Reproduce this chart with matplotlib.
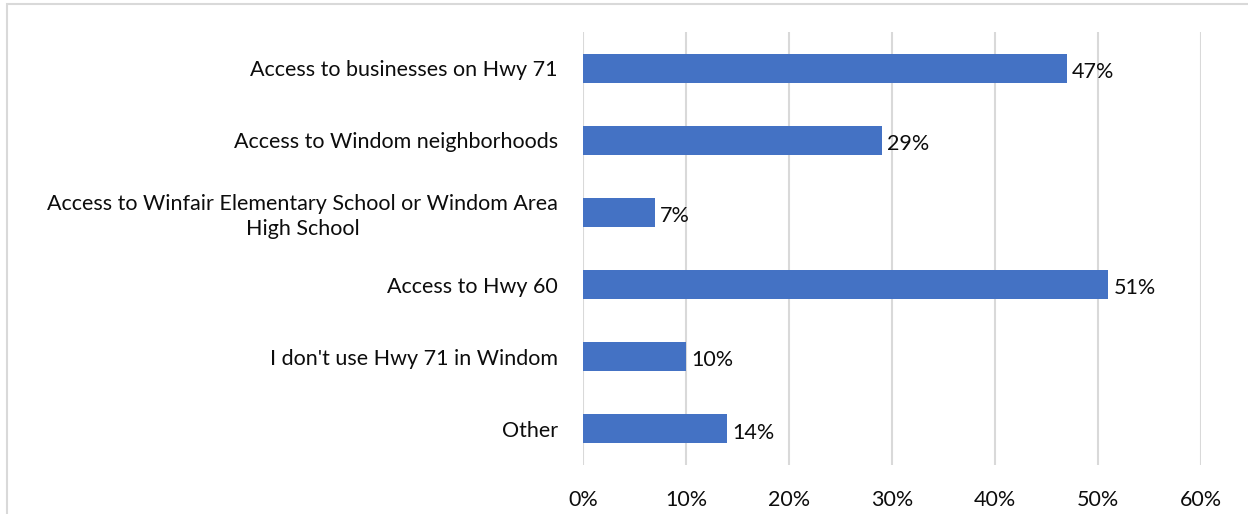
import matplotlib.pyplot as plt
from matplotlib.patches import Rectangle

plt.rcParams['font.family'] = ['Lato', 'DejaVu Sans']

# survey responses, top to bottom
categories = [
    "Access to businesses on Hwy 71",
    "Access to Windom neighborhoods",
    "Access to Winfair Elementary School or Windom Area\nHigh School",
    "Access to Hwy 60",
    "I don't use Hwy 71 in Windom",
    "Other",
]
shares = [47, 29, 7, 51, 10, 14]
x_ticks = [0, 10, 20, 30, 40, 50, 60]
x_tick_labels = ["0%", "10%", "20%", "30%", "40%", "50%", "60%"]

BAR_COLOR = "#4472c4"
GRID_COLOR = "#d9d9d9"
TEXT_COLOR = "#0d0d0d"
FS = 15.5

fig = plt.figure(figsize=(12.48, 5.14), dpi=100)
ax = fig.add_axes([0.4671, 0.0953, 0.4952, 0.8424])

# light frame around the chart area (runs off the right and bottom edges)
fig.patches.append(Rectangle((7 / 1248, -0.1), 1.2, 1 - 4 / 514 + 0.1,
                             transform=fig.transFigure, fill=False,
                             edgecolor=GRID_COLOR, linewidth=1.5, zorder=0))

y = list(range(len(categories)))
ax.barh(y, shares, height=0.4, color=BAR_COLOR, zorder=3)
for yi, v in zip(y, shares):
    ax.text(v + 0.5, yi + 0.05, f"{v}%", va="center", ha="left",
            fontsize=FS, color=TEXT_COLOR)

ax.set_xlim(0, 60)
ax.set_ylim(len(categories) - 0.5, -0.5)
ax.set_xticks(x_ticks)
ax.set_xticklabels(x_tick_labels, fontsize=FS, color=TEXT_COLOR)
ax.set_yticks(y)
ax.set_yticklabels(categories, fontsize=FS, color=TEXT_COLOR,
                   multialignment="center", linespacing=1.3)
ax.tick_params(axis="both", length=0)
ax.tick_params(axis="y", pad=18)
ax.tick_params(axis="x", pad=18)

ax.grid(axis="x", color=GRID_COLOR, linewidth=1.5, zorder=0)
ax.set_axisbelow(True)
for s in ax.spines.values():
    s.set_visible(False)

fig.savefig("out.png", dpi=100)
